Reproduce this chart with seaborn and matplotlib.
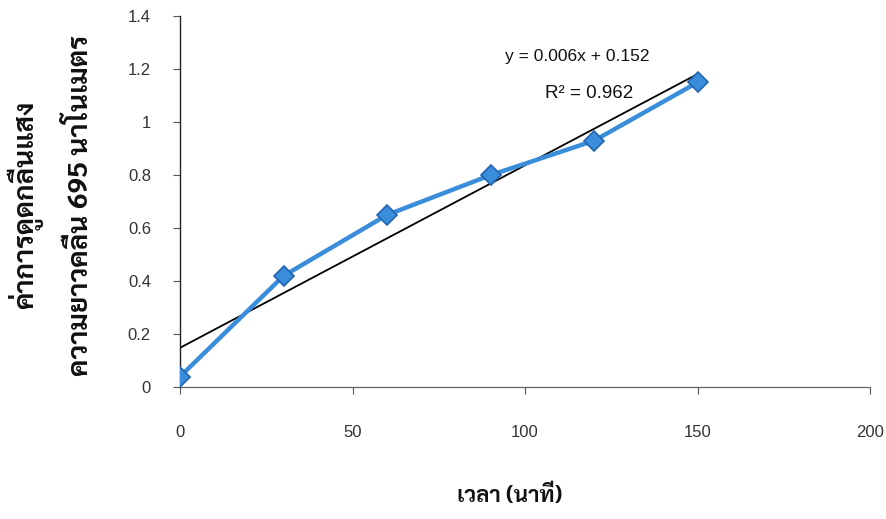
import matplotlib
matplotlib.use("Agg")
import matplotlib.pyplot as plt
import seaborn as sns
import pandas as pd

# ข้อมูลจากกราฟ
time_min = [0, 30, 60, 90, 120, 150]
absorbance = [0.04, 0.42, 0.65, 0.80, 0.93, 1.15]
x_ticks = [0, 50, 100, 150, 200]
y_ticks = [0, 0.2, 0.4, 0.6, 0.8, 1, 1.2, 1.4]
y_tick_labels = ["0", "0.2", "0.4", "0.6", "0.8", "1", "1.2", "1.4"]
eq_text = "y = 0.006x + 0.152"
r2_text = "R² = 0.962"

df = pd.DataFrame({"time": time_min, "abs": absorbance})

sns.set_style("white")
plt.rcParams["font.family"] = ["Liberation Sans", "DejaVu Sans"]
thai = ["Sarabun", "DejaVu Sans"]

fig = plt.figure(figsize=(8.87, 5.19), dpi=100)
ax = fig.add_axes([0.203, 0.254, 0.778, 0.715])

# เส้นแนวโน้ม (linear)
sns.regplot(data=df, x="time", y="abs", scatter=False, ci=None, truncate=True,
            color="black", line_kws={"lw": 1.3, "zorder": 2}, ax=ax)

# เส้นข้อมูล
sns.lineplot(data=df, x="time", y="abs", color="#3a8ddb", lw=3.2,
             marker="D", markersize=10, markerfacecolor="#3a8ddb",
             markeredgecolor="#2464b0", markeredgewidth=1.2, zorder=3, ax=ax)

ax.set_xlim(0, 200)
ax.set_ylim(0, 1.4)
ax.set_xticks(x_ticks)
ax.set_yticks(y_ticks)
ax.set_yticklabels(y_tick_labels)
ax.tick_params(axis="x", direction="out", length=5, width=0.8, color="#555555",
               pad=22, labelsize=12, labelcolor="#333333", bottom=True)
ax.tick_params(axis="y", direction="out", length=5, width=0.8, color="#555555",
               pad=16, labelsize=12, labelcolor="#333333", left=True)
for s in ["top", "right"]:
    ax.spines[s].set_visible(False)
ax.spines["left"].set_color("#222222")
ax.spines["left"].set_linewidth(1.0)
ax.spines["bottom"].set_color("#666666")
ax.spines["bottom"].set_linewidth(0.9)
ax.set_xlabel("")
ax.set_ylabel("")

# สมการเส้นแนวโน้ม
fig.text(505 / 887, 1 - 57 / 519, eq_text, fontsize=12.5, color="#111111",
         va="center", ha="left")
fig.text(545 / 887, 1 - 94 / 519, r2_text, fontsize=13.5, color="#111111",
         va="center", ha="left")

# ชื่อแกน
fig.text(510 / 887, 1 - 496 / 519, "เวลา (นาที)", family=thai, fontsize=16,
         weight="bold", ha="center", va="center", color="#111111")
fig.text(25 / 887, 1 - 205 / 519, "ค่าการดูดกลืนแสง", family=thai, fontsize=20,
         weight="bold", rotation=90, ha="center", va="center", color="#111111")
fig.text(80 / 887, 1 - 205 / 519, "ความยาวคลื่น 695 นาโนเมตร", family=thai,
         fontsize=20, weight="bold", rotation=90, ha="center", va="center",
         color="#111111")

fig.savefig("out.png", dpi=100)
